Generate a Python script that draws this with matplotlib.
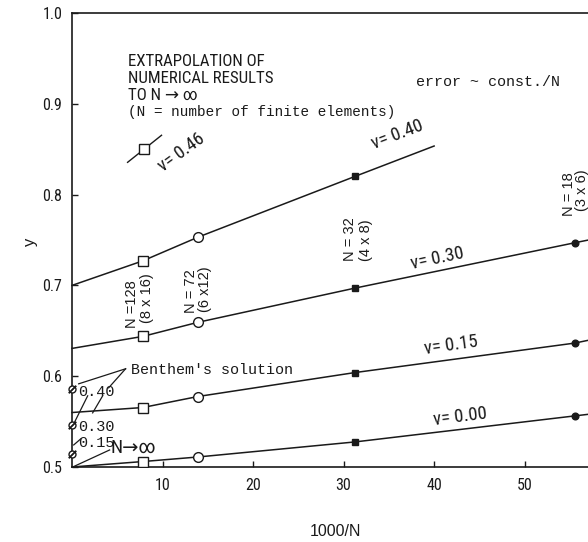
import numpy as np
import matplotlib
matplotlib.use("Agg")
import matplotlib.pyplot as plt
from matplotlib import font_manager as fm

# ---------------- data ----------------
N_elements = [128, 72, 32, 18]
x_pts = [1000.0 / n for n in N_elements]          # 1000/N
marker_kinds = ["s_open", "o_open", "s_fill", "o_fill"]

# lines: (intercept at 1000/N = 0, point values, line end x, line end y)
nu_top_intercept = 0.700
nu_top_values = [0.727, 0.753, 0.820]           # nu = 0.46 / 0.40 curve
nu_top_end = (40.0, 0.8535)

nu030_intercept = 0.6306
nu030_values = [0.6438, 0.6593, 0.697, 0.747]
nu030_end = (57.0, 0.7499)

nu015_intercept = 0.560
nu015_values = [0.5655, 0.5776, 0.604, 0.6365]
nu015_end = (57.0, 0.6395)

nu000_intercept = 0.500
nu000_values = [0.506, 0.511, 0.5276, 0.5563]
nu000_end = (57.0, 0.558)

benthem_nu = ["0.40", "0.30", "0.15"]
benthem_y = [0.586, 0.546, 0.514]

xticks = [10, 20, 30, 40, 50]
yticks = [0.5, 0.6, 0.7, 0.8, 0.9, 1.0]

# ---------------- fonts ----------------
INK = "#1a1a1a"
names = {f.name for f in fm.fontManager.ttflist}
cond_dejavu = any(f.name == "DejaVu Sans" and "Condensed" in f.fname
                  and "Bold" not in f.fname and "Oblique" not in f.fname
                  for f in fm.fontManager.ttflist)
NARROW = None
for cand in ["Liberation Sans Narrow", "Roboto Condensed", "Open Sans Condensed",
             "DejaVu Sans Condensed"]:
    if cand in names:
        NARROW = dict(family=[cand, "DejaVu Sans"])
        NSCALE = 1.0
        break
if NARROW is None:
    if cond_dejavu:
        NARROW = dict(family=["DejaVu Sans"], stretch="condensed")
        NSCALE = 0.95
    else:
        NARROW = dict(family=["Liberation Sans", "DejaVu Sans"])
        NSCALE = 0.9
SANS = dict(family=["Liberation Sans", "DejaVu Sans"])
MONO = dict(family=["Liberation Mono", "DejaVu Sans Mono"])

fig = plt.figure(figsize=(5.88, 5.42), dpi=100)
ax = fig.add_axes([72 / 588, 1 - 467 / 542, 1 - 72 / 588, (467 - 13) / 542])
ax.set_xlim(0, 57)
ax.set_ylim(0.5, 1.0)

def draw_series(intercept, values, end):
    xs = [0.0] + x_pts[:len(values)] + [end[0]]
    ys = [intercept] + list(values) + [end[1]]
    ax.plot(xs, ys, color=INK, lw=1.1, zorder=2, clip_on=False)
    for xv, yv, kind in zip(x_pts, values, marker_kinds):
        if kind == "s_open":
            ax.plot(xv, yv, marker="s", ms=6.5, mfc="white", mec=INK, mew=1.0, zorder=3)
        elif kind == "o_open":
            ax.plot(xv, yv, marker="o", ms=7, mfc="white", mec=INK, mew=1.0, zorder=3)
        elif kind == "s_fill":
            ax.plot(xv, yv, marker="s", ms=4.5, mfc=INK, mec=INK, zorder=3)
        else:
            ax.plot(xv, yv, marker="o", ms=4.8, mfc=INK, mec=INK, zorder=3, clip_on=False)

draw_series(nu_top_intercept, nu_top_values, nu_top_end)
draw_series(nu030_intercept, nu030_values, nu030_end)
draw_series(nu015_intercept, nu015_values, nu015_end)
draw_series(nu000_intercept, nu000_values, nu000_end)

# Benthem's solution markers (circle with slash)
bx = [0.0] * len(benthem_y)
ax.plot(bx, benthem_y, ls="none", marker="o", ms=5, mfc="white", mec=INK, mew=1.0,
        clip_on=False, zorder=4)
ax.plot(bx, benthem_y, ls="none", marker=(2, 2, -45), ms=7.5, mec=INK, mew=0.9,
        clip_on=False, zorder=4)

# ---------------- axes styling ----------------
ax.spines["right"].set_visible(False)
for s in ["left", "top", "bottom"]:
    ax.spines[s].set_linewidth(1.2)
    ax.spines[s].set_color(INK)
ax.set_xticks(xticks)
ax.set_yticks(yticks)
ax.set_xticklabels([str(t) for t in xticks], fontsize=11.5 * NSCALE, **NARROW)
ax.set_yticklabels([f"{t:.1f}" for t in yticks], fontsize=11.5 * NSCALE, **NARROW)
ax.tick_params(direction="in", length=4, width=1.0, color=INK, labelcolor=INK)
ax.tick_params(axis="y", pad=7)
ax.tick_params(axis="x", pad=8)

ax.set_xlabel("1000/N", fontsize=11.5, color=INK, **SANS)
ax.xaxis.set_label_coords(0.51, -0.143)
ax.xaxis.label.set_va("center")
ax.set_ylabel("y", fontsize=12, color=INK, rotation=90, **SANS)
ax.yaxis.set_label_coords(-0.081, 0.4956)
ax.yaxis.label.set_va("center")

# ---------------- annotations ----------------
def px2d(px, py):
    return ((px - 71.3) / 9.07, 0.5 + (466 - py) / 906.0)

def txt(px, py, s, fam, size, rot=0, ha="center", va="center"):
    x, y = px2d(px, py)
    scale = NSCALE if fam is NARROW else 1.0
    ax.text(x, y, s, fontsize=size * scale, rotation=rot, ha=ha, va=va,
            color=INK, rotation_mode="anchor", clip_on=False, **fam)

txt(127, 61, "EXTRAPOLATION OF", NARROW, 12.2, ha="left")
txt(127, 78, "NUMERICAL RESULTS", NARROW, 12.2, ha="left")
txt(127, 95, "TO N \u2192 \u221e", NARROW, 12.2, ha="left")
txt(127, 112, "(N = number of finite elements)", MONO, 10.4, ha="left")
txt(416, 82, "error ~ const./N", MONO, 10.8, ha="left")

# legend-like symbol for nu = 0.46
(lx0, ly0), (lx1, ly1) = px2d(127, 162), px2d(161, 135)
ax.plot([lx0, lx1], [ly0, ly1], color=INK, lw=1.0)
sx, sy = px2d(143, 149)
ax.plot(sx, sy, marker="s", ms=6.5, mfc="white", mec=INK, mew=1.0)
txt(181, 152, "\u03bd= 0.46", NARROW, 13.2, rot=36)

txt(397, 134, "\u03bd= 0.40", NARROW, 13.5, rot=21)
txt(437, 258, "\u03bd= 0.30", NARROW, 13.5, rot=12)
txt(451, 345, "\u03bd= 0.15", NARROW, 13.5, rot=8)
txt(460, 416, "\u03bd= 0.00", NARROW, 13.5, rot=7)

# N labels (rotated)
txt(131, 303, "N =128", SANS, 10.5, rot=90)
txt(146, 297, "(8 x 16)", SANS, 10.5, rot=90)
txt(191, 291, "N = 72", SANS, 10.5, rot=90)
txt(205, 289, "(6 x12)", SANS, 10.5, rot=90)
txt(350, 239, "N = 32", SANS, 10.5, rot=90)
txt(366, 240, "(4 x 8)", SANS, 10.5, rot=90)
txt(569, 194, "N = 18", SANS, 10.5, rot=90)
txt(582, 190, "(3 x 6)", SANS, 10.5, rot=90)

# Benthem's solution annotation
txt(130, 369, "Benthem's solution", MONO, 10.8, ha="left")
for (p0, p1) in [((125, 368), (78, 383)), ((125, 368), (108, 387)),
                 ((87, 395), (73, 423)), ((102, 395), (92, 412)),
                 ((73, 444), (80, 438)), ((109, 449), (72, 466))]:
    (x0, y0), (x1, y1) = px2d(*p0), px2d(*p1)
    ax.plot([x0, x1], [y0, y1], color=INK, lw=0.9, clip_on=False)
txt(77, 391, benthem_nu[0], MONO, 11, ha="left")
txt(77, 426, benthem_nu[1], MONO, 11, ha="left")
txt(77, 442, benthem_nu[2], MONO, 11, ha="left")
txt(110, 447, "N\u2192\u221e", NARROW, 14, ha="left")

fig.savefig("out.png", dpi=100, facecolor="white")
